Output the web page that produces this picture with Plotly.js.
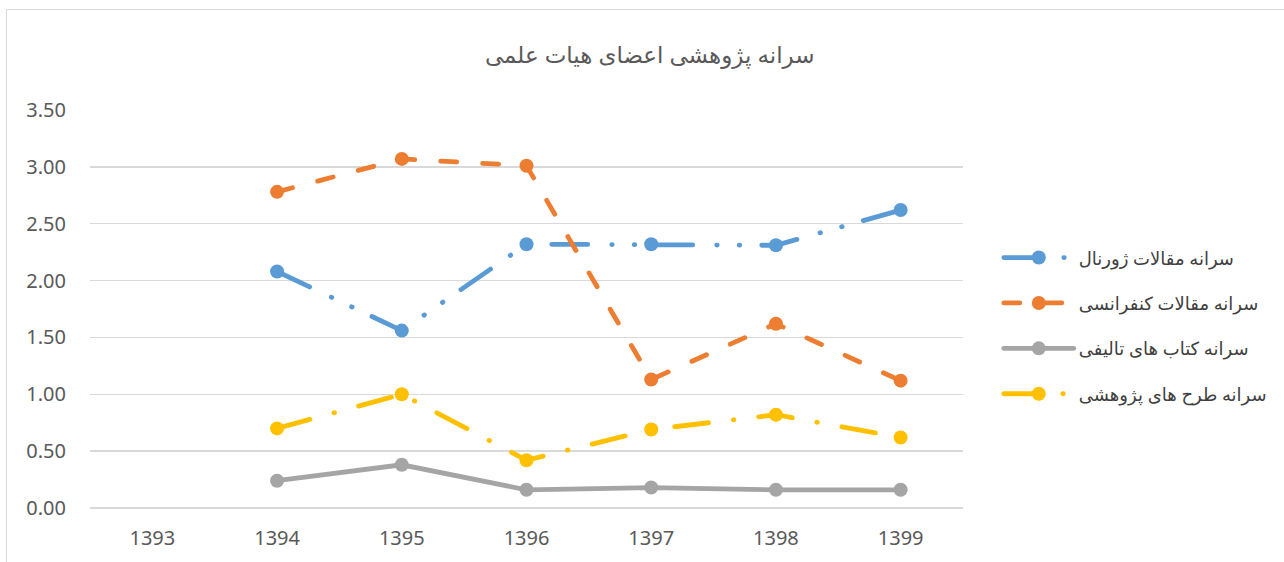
<!DOCTYPE html>
<html>
<head>
<meta charset="utf-8">
<script src="https://cdn.plot.ly/plotly-3.0.1.min.js"></script>
<style>
  html, body { margin: 0; padding: 0; background: #fff; overflow: hidden; }
  #chart { width: 1284px; height: 562px; }
  #frame { position: absolute; left: 6px; top: 9px; width: 1300px; height: 600px; border: 1px solid #d9d9d9; pointer-events: none; }
  .js-line { stroke-linecap: round; }
  .legendlines path { stroke-linecap: round; }
</style>
</head>
<body>
<div id="chart"></div>
<div id="frame"></div>
<script>
const years = ['1393', '1394', '1395', '1396', '1397', '1398', '1399'];
const journalPapers = [null, 2.08, 1.56, 2.32, 2.32, 2.31, 2.62];
const conferencePapers = [null, 2.78, 3.07, 3.01, 1.13, 1.62, 1.12];
const books = [null, 0.24, 0.38, 0.16, 0.18, 0.16, 0.16];
const researchPlans = [null, 0.70, 1.00, 0.42, 0.69, 0.82, 0.62];

const names = [
  'سرانه مقالات ژورنال',
  'سرانه مقالات کنفرانسی',
  'سرانه کتاب های تالیفی',
  'سرانه طرح های پژوهشی'
];
const series = [journalPapers, conferencePapers, books, researchPlans];
const colors = ['#5B9BD5', '#ED7D31', '#A5A5A5', '#FFC000'];
const dashes = ['36px,24px,0.5px,22px,0.5px,22px', '16px,26px', 'solid', '34px,25px,0.5px,25px'];

const FONT = '"Noto Sans", "DejaVu Sans", sans-serif';

const traces = series.map((vals, i) => ({
  x: years,
  y: vals,
  name: names[i],
  type: 'scatter',
  mode: 'lines+markers',
  connectgaps: false,
  legendgroup: 'g' + i,
  line: { color: colors[i], width: 4.8, dash: dashes[i] },
  marker: { color: colors[i], size: 14 },
  hoverinfo: 'skip'
}));

const layout = {
  width: 1284,
  height: 562,
  margin: { l: 90, r: 318, t: 110, b: 54 },
  paper_bgcolor: '#ffffff',
  plot_bgcolor: '#ffffff',
  title: {
    text: 'سرانه پژوهشی اعضای هیات علمی',
    font: { family: FONT, size: 23, color: '#595959' },
    x: 0.506, xanchor: 'center', xref: 'container',
    y: 0.902, yanchor: 'middle', yref: 'container'
  },
  xaxis: {
    type: 'category',
    categoryorder: 'array',
    categoryarray: years,
    range: [-0.5, 6.5],
    showgrid: false,
    zeroline: false,
    showline: false,
    ticks: '',
    tickfont: { family: FONT, size: 20, color: '#595959' },
    ticklabelstandoff: 16
  },
  yaxis: {
    range: [0, 3.5],
    dtick: 0.5,
    tick0: 0,
    tickformat: '.2f',
    showgrid: true,
    gridcolor: '#d9d9d9',
    gridwidth: 1.3,
    zeroline: true,
    zerolinecolor: '#d9d9d9',
    zerolinewidth: 1.3,
    showline: false,
    ticks: '',
    tickfont: { family: FONT, size: 20, color: '#595959' },
    ticklabelstandoff: 23
  },
  showlegend: true,
  legend: {
    x: 1.041, xanchor: 'left',
    y: 0.675, yanchor: 'top',
    font: { family: FONT, size: 18, color: '#404040' },
    itemwidth: 70,
    tracegroupgap: 19,
    bgcolor: 'rgba(0,0,0,0)'
  }
};

Plotly.newPlot('chart', traces, layout, { displayModeBar: false, staticPlot: true });
</script>
</body>
</html>
